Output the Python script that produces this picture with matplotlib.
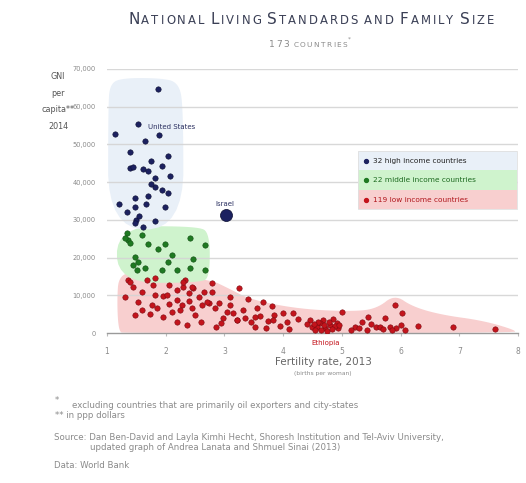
import numpy as np
import matplotlib
matplotlib.use("Agg")
import matplotlib.pyplot as plt
from matplotlib.patches import Polygon, Rectangle

# ---------------- data ----------------
high_fert = [1.87, 1.53, 1.13, 1.89, 1.65, 2.04, 1.75, 1.93, 1.39, 1.45, 1.62, 1.69, 2.07, 1.81,
             1.82, 1.94, 2.04, 1.47, 1.70, 1.20, 1.47, 1.66, 1.34, 1.98, 1.49, 1.82, 1.62, 1.47,
             1.55, 1.75, 1.40]
high_gni = [64700, 55400, 52700, 52500, 51000, 47000, 45600, 44400, 43800, 44000, 43400, 43000,
            41500, 41200, 38800, 37900, 37000, 35900, 36200, 34100, 33500, 34100, 32200, 33500,
            30000, 29700, 28200, 29100, 31000, 39500, 48000]
israel_fert = [3.03]
israel_gni = [31300]

mid_fert = [1.34, 1.36, 1.31, 1.59, 1.39, 1.70, 1.99, 1.87, 2.41, 2.67, 1.48, 1.53, 2.10, 2.04,
            2.47, 1.51, 1.65, 1.93, 2.19, 2.41, 2.67, 1.45]
mid_gni = [26400, 24700, 25200, 26000, 23900, 23600, 23600, 22200, 25100, 23300, 20200, 18900,
           20700, 18900, 19500, 16700, 17200, 16700, 16700, 17200, 16700, 17900]

low_fert = [1.36, 1.45, 1.68, 1.82, 1.79, 1.31, 1.53, 1.82, 1.96, 2.02, 1.76, 1.85, 1.48, 1.73,
            2.19, 2.30, 2.33, 2.47, 2.39, 2.19, 2.27, 2.24, 2.56, 2.78, 2.78, 2.61, 2.73, 2.50,
            2.19, 2.36, 2.84, 2.98, 3.09, 3.04, 3.15, 3.24, 2.95, 3.21, 2.70, 2.90,
            2.44, 2.29, 2.05, 1.60, 2.10, 2.45, 2.60, 2.85, 2.05, 1.95, 2.65, 2.40,
            3.32, 3.35, 3.52, 3.81, 3.85, 4.06, 4.17, 4.00, 3.60, 3.45, 3.70, 3.95, 3.75, 4.10,
            3.40, 3.55, 3.52, 3.83, 3.21,
            4.46, 4.49, 4.68, 4.80, 4.91, 4.94, 4.71, 5.00, 4.63, 4.57, 4.55, 4.75, 4.85, 4.40,
            4.88, 4.60, 4.78, 4.52, 4.95, 4.70, 4.65, 4.83,
            5.22, 5.42, 5.59, 5.91, 6.02, 5.74, 5.65, 5.82, 5.93, 6.08, 6.30, 6.90, 7.61, 5.35,
            5.50, 5.85, 6.00, 5.15, 5.70, 5.30,
            3.10, 1.60, 3.65, 4.25, 5.45, 1.39]
low_gni = [14000, 12300, 14000, 14500, 12700, 9500, 8300, 10100, 9900, 10100, 7400, 6700, 4800, 5000,
           11400, 12300, 14000, 11800, 10500, 8800, 7400, 6100, 9600, 13200, 11000, 7400, 7900, 4800,
           3000, 2100, 6600, 3900, 9600, 5600, 5200, 11800, 2600, 3400, 8300, 8000,
           12300, 13600, 12600, 11000, 5500, 6500, 3000, 1500, 7800, 4200, 10800, 8600,
           6100, 3900, 1700, 7200, 4800, 3000, 5200, 5400, 4500, 2800, 1200, 1800, 3200, 1000,
           9000, 6500, 4300, 3400, 3400,
           3400, 1700, 3400, 2100, 2600, 1200, 1200, 5600, 2600, 1700, 900, 600, 3600, 2500,
           1800, 3000, 2800, 2300, 2000, 2000, 800, 1100,
           1700, 800, 1700, 7400, 5400, 3900, 1700, 1700, 1200, 800, 1900, 1500, 1000, 3000,
           2300, 900, 2000, 900, 1000, 1300,
           7500, 6200, 8200, 3800, 4200, 13600]

# shaded group regions (fertility, GNI outline vertices)
blue_region = [(1.02, 27500), (1.02, 60000), (1.05, 66000), (1.25, 67600), (1.9, 67600),
               (2.22, 66500), (2.30, 60000), (2.30, 27500)]
green_region = [(1.17, 13300), (1.17, 28300), (2.55, 28300), (2.75, 26500), (2.75, 15000),
                (2.6, 13300)]
red_region = [(1.2, 300), (1.17, 8000), (1.2, 15800), (1.6, 16000), (2.75, 14200), (3.05, 12000),
              (3.45, 8800), (4.3, 6300), (5.2, 5700), (5.6, 6500), (5.9, 10200), (6.2, 7000),
              (6.7, 4800), (7.4, 3300), (7.95, 800), (7.95, 0), (1.3, 0)]

xticks = [1, 2, 3, 4, 5, 6, 7, 8]
yticks = [0, 10000, 20000, 30000, 40000, 50000, 60000, 70000]
ytick_labels = ["0", "10,000", "20,000", "30,000", "40,000", "50,000", "60,000", "70,000"]
legend_labels = ["32 high income countries", "22 middle income countries", "119 low income countries"]

# ---------------- styles ----------------
C_BLUE = "#1c2160"
C_GREEN = "#1f7a22"
C_RED = "#c4141c"
F_BLUE = "#e9f0f8"
F_GREEN = "#cff3cd"
F_RED = "#f8cfcf"
GRAY = "#8a8a8a"


def chaikin(pts, n=3):
    p = np.array(pts, dtype=float)
    for _ in range(n):
        q = np.roll(p, -1, axis=0)
        a = 0.75 * p + 0.25 * q
        b = 0.25 * p + 0.75 * q
        p = np.empty((2 * len(a), 2))
        p[0::2] = a
        p[1::2] = b
    return p


def region(ax, pts, color, z):
    sm = chaikin([(x, y / 10000.0) for x, y in pts], 3)
    sm[:, 1] *= 10000.0
    ax.add_patch(Polygon(sm, closed=True, facecolor=color, edgecolor="none", zorder=z))


W, H = 526, 483
fig = plt.figure(figsize=(W / 100, H / 100), dpi=100)
fig.patch.set_facecolor("white")
ax = fig.add_axes([107 / W, 1 - 333 / H, 411 / W, 264 / H])
ax.set_xlim(1, 8)
ax.set_ylim(0, 70000)

region(ax, red_region, F_RED, 1)
region(ax, green_region, F_GREEN, 1.1)
region(ax, blue_region, F_BLUE, 1.2)

for yv in yticks[1:]:
    ax.axhline(yv, color="#d4d4d4", lw=1.0, zorder=1.5, alpha=0.9)

ax.scatter(low_fert, low_gni, s=15, color=C_RED, edgecolor="#7a0a10", linewidths=0.4, zorder=3)
ax.scatter(mid_fert, mid_gni, s=15, color=C_GREEN, edgecolor="#0e4a10", linewidths=0.4, zorder=3)
ax.scatter(high_fert, high_gni, s=15, color=C_BLUE, edgecolor="#0a0d30", linewidths=0.4, zorder=3)
ax.scatter(israel_fert, israel_gni, s=75, color=C_BLUE, edgecolor="#0a0d30", linewidths=0.5, zorder=3)

ax.text(1.70, 54600, "United States", fontsize=5.0, color="#2a2f60", va="center", ha="left", zorder=4)
ax.text(3.0, 34200, "Israel", fontsize=5.0, color="#2a2f60", va="center", ha="center", zorder=4)
ax.text(4.72, -2600, "Ethiopia", fontsize=5.0, color=C_RED, va="center", ha="center", zorder=4,
        clip_on=False)

for s in ["top", "right", "left"]:
    ax.spines[s].set_visible(False)
ax.spines["bottom"].set_color("#9a9a9a")
ax.spines["bottom"].set_linewidth(1.0)
ax.set_xticks(xticks)
ax.set_xticklabels([str(v) for v in xticks])
ax.set_yticks(yticks)
ax.set_yticklabels(ytick_labels)
ax.tick_params(axis="x", length=2, color="#bbbbbb", pad=8, labelsize=5.5, labelcolor=GRAY)
ax.tick_params(axis="y", length=0, pad=8, labelsize=4.8, labelcolor=GRAY)
ax.set_facecolor("none")

# legend (custom box)
rows = [(F_BLUE, C_BLUE, "#222222"), (F_GREEN, C_GREEN, "#1d6a20"), (F_RED, C_RED, "#b0161c")]
lx0, lx1 = (358 - 107) / 411, (517 - 107) / 411
row_h = 19.5 / 264
top = (333 - 151) / 264
for i, ((bg, mc, tc), lab) in enumerate(zip(rows, legend_labels)):
    y0 = top - (i + 1) * row_h
    ax.add_patch(Rectangle((lx0, y0), lx1 - lx0, row_h, transform=ax.transAxes,
                           facecolor=bg, edgecolor="none", zorder=5))
    ax.scatter([(366 - 107) / 411], [y0 + row_h / 2], s=8, color=mc, transform=ax.transAxes, zorder=6)
    ax.text((373 - 107) / 411, y0 + row_h / 2, lab, transform=ax.transAxes, fontsize=5.3,
            color=tc, va="center", ha="left", zorder=6)
ax.add_patch(Rectangle((lx0, top - 3 * row_h), lx1 - lx0, 3 * row_h, transform=ax.transAxes,
                       facecolor="none", edgecolor="#e0e0e0", lw=0.6, zorder=6))

renderer = fig.canvas.get_renderer()


def small_caps(text, xc_px, y_px, big, small, color, spacing, sup=None):
    made = []
    x = 0.0
    for ch in text:
        if ch == " ":
            x += small * 0.5
            continue
        sz = big if (ch.isupper() or ch.isdigit()) else small
        t = fig.text(0, 1 - y_px / H, ch.upper(), fontsize=sz, color=color, ha="left",
                     va="baseline", family="DejaVu Sans")
        w = t.get_window_extent(renderer).width
        made.append((t, x))
        x += w + spacing
    x -= spacing
    x0 = xc_px - x / 2
    for t, off in made:
        t.set_x((x0 + off) / W)
    if sup:
        fig.text((x0 + x + 1) / W, 1 - (y_px - 6) / H, sup, fontsize=small * 0.8, color=color,
                 ha="left", va="baseline")


small_caps("National Living Standards and Family Size", 311, 24, 11.0, 8.4, "#3a3f55", 2.0)
small_caps("173 countries", 308, 47, 6.6, 5.3, "#8a8a8a", 1.4, sup="*")

# y-axis label
fig.text(58 / W, 1 - 72 / H, "GNI\nper\ncapita**\n2014", fontsize=5.8, color="#555555",
         ha="center", va="top", linespacing=2.1)

# x-axis label
fig.text(323 / W, 1 - 362 / H, "Fertility rate, 2013", fontsize=7.5, color="#666666",
         ha="center", va="center")
fig.text(323 / W, 1 - 374 / H, "(births per woman)", fontsize=4.3, color="#8a8a8a",
         ha="center", va="center")

# footnotes
fn = dict(fontsize=6.2, color="#8a8a8a", ha="left", va="center")
fig.text(55 / W, 1 - 401 / H, "*", **fn)
fig.text(72 / W, 1 - 406 / H, "excluding countries that are primarily oil exporters and city-states", **fn)
fig.text(55 / W, 1 - 415 / H, "** in ppp dollars", **fn)
fig.text(54 / W, 1 - 437 / H,
         "Source: Dan Ben-David and Layla Kimhi Hecht, Shoresh Institution and Tel-Aviv University,",
         **fn)
fig.text(90 / W, 1 - 448 / H, "updated graph of Andrea Lanata and Shmuel Sinai (2013)", **fn)
fig.text(54 / W, 1 - 466 / H, "Data: World Bank", **fn)

fig.savefig("out.png", dpi=100, facecolor="white")
